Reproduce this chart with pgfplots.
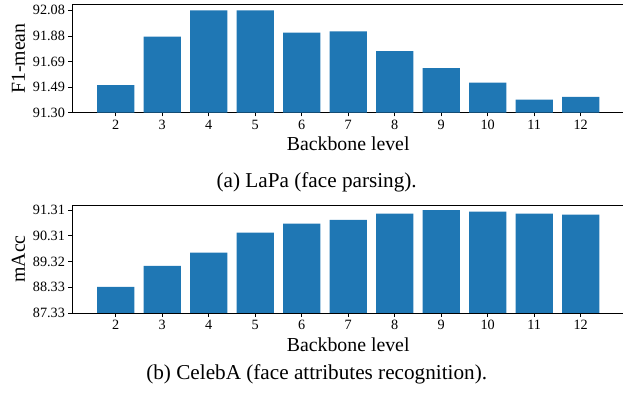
\documentclass[border=0pt]{standalone}
\usepackage{pgfplots}
\pgfplotsset{compat=1.18}
\usepackage{fontspec}
\setmainfont{Liberation Serif}
\definecolor{barblue}{HTML}{1F77B4}
\begin{document}
\begin{tikzpicture}[x=1pt,y=1pt]
\useasboundingbox (0,0) rectangle (623,393);
\pgfplotsset{
  mybar/.style={
    scale only axis, width=552.4pt, height=108pt,
    xmin=1.06, xmax=12.94,
    xtick={2,3,4,5,6,7,8,9,10,11,12},
    tick align=outside, xtick pos=left, ytick pos=left,
    major tick length=3.6pt,
    tick style={black, line width=0.8pt},
    axis line style={black, line width=0.8pt},
    ticklabel style={font=\fontsize{14.2}{17}\selectfont},
    /pgf/number format/assume math mode=true,
    label style={font=\fontsize{19.8}{23}\selectfont},
    xlabel={Backbone level},
    xlabel style={at={(axis description cs:0.5,-0.3519)}, anchor=base},
    ylabel style={at={(axis description cs:-0.0851,0.5)}, anchor=base},
  }
}
\begin{axis}[mybar, at={(72pt,280.3pt)}, anchor=south west,
  ymin=91.30, ymax=92.123,
  ytick={91.30,91.495,91.69,91.885,92.08},
  yticklabels={91.30,91.49,91.69,91.88,92.08},
  ylabel={F1-mean}]
\addplot[ybar, bar width=0.8, fill=barblue, draw=none] coordinates {
 (2,91.51) (3,91.88) (4,92.08) (5,92.08) (6,91.91) (7,91.92)
 (8,91.77) (9,91.64) (10,91.53) (11,91.40) (12,91.42)};
\end{axis}
\begin{axis}[mybar, at={(72pt,80pt)}, anchor=south west,
  ymin=87.33, ymax=91.50,
  ytick={87.33,88.325,89.32,90.315,91.31},
  yticklabels={87.33,88.33,89.32,90.31,91.31},
  ylabel={mAcc}]
\addplot[ybar, bar width=0.8, fill=barblue, draw=none] coordinates {
 (2,88.34) (3,89.15) (4,89.66) (5,90.43) (6,90.78) (7,90.93)
 (8,91.17) (9,91.30) (10,91.24) (11,91.17) (12,91.13)};
\end{axis}
\node[anchor=base, inner sep=0pt, font=\fontsize{21.2}{25}\selectfont] at (316.7,205) {(a) LaPa (face parsing).};
\node[anchor=base, inner sep=0pt, font=\fontsize{21.2}{25}\selectfont] at (316.7,13.5) {(b) CelebA (face attributes recognition).};
\end{tikzpicture}
\end{document}
